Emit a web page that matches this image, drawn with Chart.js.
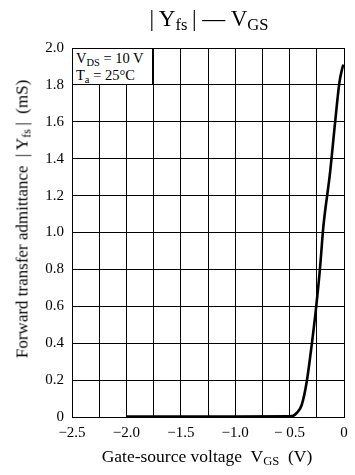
<!DOCTYPE html>
<html>
<head>
<meta charset="utf-8">
<script src="https://cdn.jsdelivr.net/npm/chart.js@4"></script>
<style>
  body { margin: 0; background: #fff; }
  #wrap { position: relative; width: 355px; height: 475px; font-family: "Liberation Serif", "DejaVu Serif", serif; color: #000; }
  canvas { position: absolute; left: 0; top: 0; }
  .txt { position: absolute; white-space: nowrap; line-height: 1; }
  sub { font-size: 0.72em; vertical-align: -0.25em; line-height: 0; }
  #titulo { left: 0; width: 418px; top: 7px; text-align: center; font-size: 23px; }
  #eixo-x { left: 0; width: 414px; top: 448px; text-align: center; font-size: 17.5px; }
  #eixo-y { left: 22px; top: 219px; font-size: 17px; transform: translate(-50%, -50%) rotate(-90deg); }
  #caixa { position: absolute; left: 72px; top: 48px; width: 81px; height: 37px; background: #fff;
           border: 1px solid #000; font-size: 14.5px; line-height: 17px; padding-left: 3px; padding-top: 1px; box-sizing: border-box; }
</style>
</head>
<body>
<div id="wrap">
  <canvas id="grafico" width="355" height="475"></canvas>
  <div class="txt" id="titulo">|&thinsp;Y<sub>fs</sub>&thinsp;| — V<sub>GS</sub></div>
  <div class="txt" id="eixo-x">Gate-source voltage&nbsp; V<sub>GS</sub>&nbsp; (V)</div>
  <div class="txt" id="eixo-y">Forward transfer admittance&nbsp; |&thinsp;Y<sub>fs</sub>&thinsp;|&nbsp; (mS)</div>
  <div id="caixa">V<sub>DS</sub> = 10 V<br>T<sub>a</sub> = 25°C</div>
</div>
<script>
// ===== Dados =====
const vgs = [-2.0, -1.5, -1.0, -0.5, -0.466, -0.43, -0.389, -0.343, -0.297, -0.257, -0.22, -0.19, -0.129, -0.083, -0.043, -0.02, -0.006];
const yfs = [0.003, 0.003, 0.003, 0.004, 0.007, 0.025, 0.065, 0.19, 0.39, 0.59, 0.81, 1.03, 1.32, 1.59, 1.81, 1.88, 1.91];
const rotulosX = { "-2.5": "−2.5", "-2": "−2.0", "-1.5": "−1.5", "-1": "−1.0", "-0.5": "− 0.5", "0": "0" };
const rotulosY = { "0": "0", "0.2": "0.2", "0.4": "0.4", "0.6": "0.6", "0.8": "0.8", "1": "1.0",
                   "1.2": "1.2", "1.4": "1.4", "1.6": "1.6", "1.8": "1.8", "2": "2.0" };

const fonte = { family: "'Liberation Serif', serif", size: 15 };
const chave = v => String(Math.round(v * 100) / 100);

new Chart(document.getElementById("grafico"), {
  type: "line",
  data: {
    datasets: [{
      data: vgs.map((v, i) => ({ x: v, y: yfs[i] })),
      borderColor: "#000", borderWidth: 2.6, pointRadius: 0,
      cubicInterpolationMode: "monotone", fill: false,
    }],
  },
  options: {
    responsive: false, animation: false,
    layout: { padding: { top: 48, right: 11, left: 0, bottom: 0 } },
    plugins: { legend: { display: false }, tooltip: { enabled: false } },
    scales: {
      x: {
        type: "linear", min: -2.5, max: 0,
        afterFit: s => { s.height = 58; },
        ticks: { stepSize: 0.25, autoSkip: false, maxRotation: 0, padding: 7, color: "#000", font: fonte,
                 callback: v => rotulosX[chave(v)] ?? "" },
        grid: { color: "#000", lineWidth: 1, drawTicks: false },
        border: { color: "#000", width: 1 },
      },
      y: {
        min: 0, max: 2.0,
        afterFit: s => { s.width = 72; },
        ticks: { stepSize: 0.2, autoSkip: false, padding: 8, color: "#000", font: fonte,
                 callback: v => rotulosY[chave(v)] ?? "" },
        grid: { color: "#000", lineWidth: 1, drawTicks: false },
        border: { color: "#000", width: 1 },
      },
    },
  },
});
</script>
</body>
</html>
